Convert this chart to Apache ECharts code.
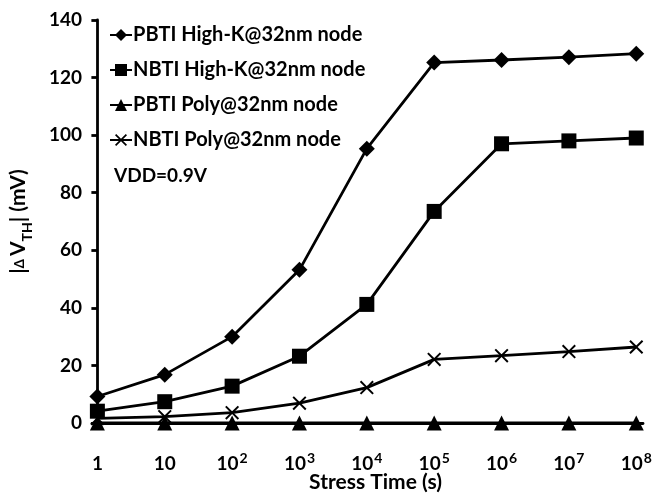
<!DOCTYPE html>
<html>
<head>
<meta charset="utf-8">
<script src="https://cdn.jsdelivr.net/npm/echarts@6/dist/echarts.min.js"></script>
<style>
  html, body { margin: 0; padding: 0; background: #fff; }
  #chart { width: 657px; height: 494px; }
</style>
</head>
<body>
<div id="chart"></div>
<script>
// stress time exponents: 10^0 .. 10^8
const timeExp = [0, 1, 2, 3, 4, 5, 6, 7, 8];
const pbtiHighK = [9.2, 16.8, 30, 53.2, 95.3, 125.2, 126.1, 127.1, 128.3];
const nbtiHighK = [4.1, 7.4, 12.8, 23.2, 41.2, 73.5, 97, 98, 99];
const pbtiPoly = [0, 0, 0, 0, 0, 0, 0, 0, 0];
const nbtiPoly = [1.6, 2.2, 3.6, 6.9, 12.3, 22.1, 23.4, 24.8, 26.4];
const yTicks = [0, 20, 40, 60, 80, 100, 120, 140];

const FONT = 'Lato';
const crossPath = 'path://M0,1 L1,0 L5,4 L9,0 L10,1 L6,5 L10,9 L9,10 L5,6 L1,10 L0,9 L4,5 Z';

const chart = echarts.init(document.getElementById('chart'));

const pairs = (vals) => timeExp.map((e, i) => [e, vals[i]]);

const mkSeries = (name, vals, symbol, size) => ({
  name: name,
  type: 'line',
  data: pairs(vals),
  symbol: symbol,
  symbolSize: size,
  showAllSymbol: true,
  lineStyle: { color: '#000', width: 2.8 },
  itemStyle: { color: '#000' },
  z: 3
});

const option = {
  backgroundColor: '#fff',
  animation: false,
  textStyle: { fontFamily: FONT },
  grid: { left: 92, right: 14, top: 20, bottom: 71, containLabel: false, outerBoundsMode: 'none' },
  legend: {
    orient: 'vertical',
    left: 104,
    top: 20,
    itemGap: 15,
    itemWidth: 22,
    itemHeight: 15,
    textStyle: { fontFamily: FONT, fontSize: 20, lineHeight: 20, fontWeight: 'bold', color: '#000', padding: [0, 0, 0, -4] },
    data: ['PBTI High-K@32nm node', 'NBTI High-K@32nm node', 'PBTI Poly@32nm node', 'NBTI Poly@32nm node']
  },
  xAxis: {
    type: 'value',
    min: -0.08,
    max: 8.1,
    splitLine: { show: false },
    axisLine: { onZero: false, lineStyle: { color: '#000', width: 2.8 } },
    axisTick: { show: false },
    axisLabel: {
      margin: 28,
      customValues: timeExp,
      formatter: (v) => {
        const e = Math.round(v);
        if (e === 0) return '{b|1}';
        if (e === 1) return '{b|10}';
        return '{b|10}{s|' + e + '}';
      },
      rich: {
        b: { fontFamily: FONT, fontSize: 19, fontWeight: 'bold', color: '#000', verticalAlign: 'bottom', lineHeight: 22 },
        s: { fontFamily: FONT, fontSize: 14, fontWeight: 'bold', color: '#000', verticalAlign: 'top', lineHeight: 22, padding: [0, 0, 10, 1] }
      }
    },
    name: 'Stress Time (s)',
    nameLocation: 'middle',
    nameGap: 49,
    nameMoveOverlap: false,
    nameTextStyle: { fontFamily: FONT, fontSize: 21, fontWeight: 'bold', color: '#000', padding: [0, 0, 0, 16] }
  },
  yAxis: {
    type: 'value',
    min: 0,
    max: 140,
    interval: 20,
    splitLine: { show: false },
    axisLine: { lineStyle: { color: '#000', width: 2.8 } },
    axisTick: { show: true, length: 6, lineStyle: { color: '#000', width: 2.8 } },
    axisLabel: {
      margin: 10,
      fontFamily: FONT,
      fontSize: 19,
      fontWeight: 'bold',
      color: '#000',
      formatter: (v) => (yTicks.indexOf(v) >= 0 ? String(v) : '')
    },
    name: '{n||}{d|\u0394 }{n|V}{sub|TH}{n|| (mV)}',
    nameLocation: 'middle',
    nameRotate: 90,
    nameGap: 63,
    nameMoveOverlap: false,
    nameTextStyle: {
      rich: {
        n: { fontFamily: FONT, fontSize: 21, fontWeight: 'bold', color: '#000', lineHeight: 26, verticalAlign: 'bottom' },
        d: { fontFamily: FONT, fontSize: 13, fontWeight: 'bold', color: '#000', lineHeight: 26, verticalAlign: 'bottom', padding: [0, 0, 3, 0] },
        sub: { fontFamily: FONT, fontSize: 14, fontWeight: 'bold', color: '#000', lineHeight: 26, verticalAlign: 'bottom', padding: [0, 0, -5, 0] }
      }
    }
  },
  graphic: [
    {
      type: 'text',
      left: 114,
      top: 166,
      style: { text: 'VDD=0.9V', font: 'bold 19px ' + FONT, fill: '#000' }
    }
  ],
  series: [
    mkSeries('PBTI High-K@32nm node', pbtiHighK, 'diamond', 16),
    mkSeries('NBTI High-K@32nm node', nbtiHighK, 'rect', 15),
    mkSeries('PBTI Poly@32nm node', pbtiPoly, 'triangle', 15),
    mkSeries('NBTI Poly@32nm node', nbtiPoly, crossPath, 14)
  ]
};

chart.setOption(option);
</script>
</body>
</html>
